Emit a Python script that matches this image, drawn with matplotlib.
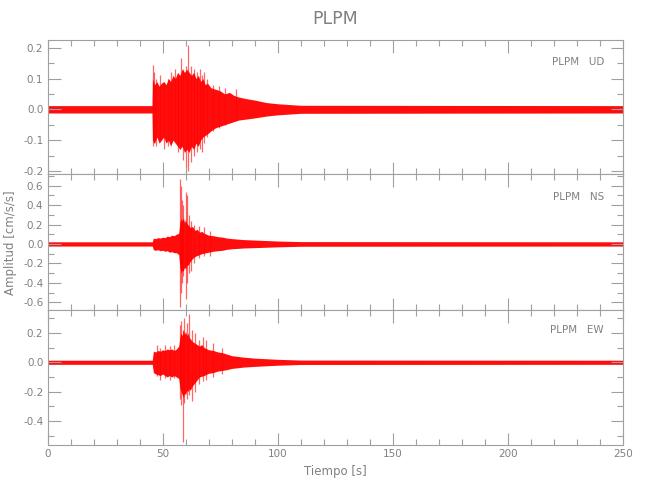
import matplotlib
matplotlib.use("Agg")
import matplotlib.pyplot as plt
from matplotlib.ticker import MultipleLocator, FormatStrFormatter

# station / components
station = "PLPM"
components = ["UD", "NS", "EW"]

# envelope of the dense trace (core band)
ud_t = [0, 45.4, 45.6, 46.5, 47.5, 48.5, 49.5, 50.5, 51.5, 52.5, 53.5, 54.5, 55.5, 56.5, 57.5, 58.5,
        59.5, 60.5, 61.5, 62.5, 63.5, 64.5, 65.5, 66.5, 67.5, 68.5, 69.5, 71, 73, 75, 77, 79, 81, 83,
        86, 90, 95, 100, 110, 250]
ud_hi = [0.012, 0.012, 0.10, 0.08, 0.09, 0.075, 0.085, 0.09, 0.08, 0.10, 0.09, 0.11, 0.10, 0.12, 0.11, 0.13,
         0.12, 0.13, 0.12, 0.11, 0.12, 0.10, 0.11, 0.09, 0.10, 0.08, 0.085, 0.07, 0.065, 0.06, 0.05, 0.055, 0.045, 0.04,
         0.035, 0.03, 0.022, 0.018, 0.013, 0.012]
ud_lo = [-0.012, -0.012, -0.10, -0.11, -0.09, -0.11, -0.10, -0.09, -0.11, -0.10, -0.12, -0.10, -0.11, -0.12, -0.13, -0.12,
         -0.14, -0.13, -0.14, -0.12, -0.13, -0.11, -0.12, -0.10, -0.09, -0.085, -0.08, -0.07, -0.06, -0.055, -0.05, -0.045, -0.04, -0.035,
         -0.032, -0.028, -0.022, -0.018, -0.013, -0.012]

ns_t = [0, 45.5, 46.0, 47, 48, 49, 50, 51, 52, 53, 54, 55, 56, 57, 57.5, 58, 58.5, 59, 59.5, 60, 60.5,
        61, 62, 63, 64, 65, 66, 67, 68, 70, 72, 74, 76, 78, 80, 85, 90, 100, 110, 250]
ns_hi = [0.022, 0.022, 0.06, 0.055, 0.065, 0.06, 0.07, 0.065, 0.08, 0.075, 0.09, 0.085, 0.10, 0.11, 0.22, 0.26, 0.24, 0.27, 0.22, 0.25, 0.21,
         0.2, 0.17, 0.18, 0.14, 0.15, 0.12, 0.13, 0.11, 0.09, 0.085, 0.075, 0.07, 0.06, 0.055, 0.045, 0.04, 0.03, 0.024, 0.022]
ns_lo = [-0.022, -0.022, -0.06, -0.065, -0.06, -0.07, -0.065, -0.075, -0.07, -0.085, -0.08, -0.09, -0.09, -0.11, -0.24, -0.3, -0.27, -0.28, -0.24, -0.26, -0.22,
         -0.22, -0.18, -0.15, -0.13, -0.12, -0.11, -0.1, -0.095, -0.085, -0.075, -0.07, -0.065, -0.055, -0.05, -0.042, -0.038, -0.03, -0.024, -0.022]

ew_t = [0, 45.5, 46.0, 47, 48, 49, 50, 51, 52, 53, 54, 55, 56, 57, 57.5, 58, 58.5, 59, 59.5, 60, 60.5, 61, 61.5, 62,
        63, 64, 65, 66, 67, 68, 70, 72, 74, 76, 78, 80, 85, 90, 100, 110, 250]
ew_hi = [0.014, 0.014, 0.075, 0.07, 0.08, 0.075, 0.085, 0.08, 0.09, 0.085, 0.09, 0.08, 0.09, 0.11, 0.17, 0.2, 0.18, 0.22, 0.19, 0.21, 0.18, 0.2, 0.17, 0.16,
         0.14, 0.13, 0.12, 0.11, 0.12, 0.1, 0.085, 0.08, 0.07, 0.065, 0.055, 0.045, 0.035, 0.028, 0.02, 0.015, 0.014]
ew_lo = [-0.014, -0.014, -0.07, -0.08, -0.085, -0.09, -0.08, -0.09, -0.1, -0.09, -0.1, -0.09, -0.1, -0.11, -0.17, -0.2, -0.22, -0.24, -0.21, -0.22, -0.19, -0.2, -0.18, -0.19,
         -0.16, -0.14, -0.12, -0.1, -0.095, -0.09, -0.075, -0.07, -0.06, -0.055, -0.05, -0.042, -0.033, -0.028, -0.02, -0.015, -0.014]

# individual peaks sticking out of the band
ud_sp_t = [45.7, 46.3, 47.2, 48.8, 50.6, 52.2, 53.5, 55.5, 56.8, 57.8, 59.0, 60.2, 61.2, 62.2, 63.6, 65.0,
           66.2, 67.0, 68.2, 69.2, 72.0, 74.5, 77.0, 82.0]
ud_sp_hi = [0.145, 0.12, 0.10, 0.11, 0.09, 0.10, 0.12, 0.13, 0.11, 0.165, 0.13, 0.14, 0.21, 0.14, 0.13, 0.12,
            0.13, 0.11, 0.12, 0.10, 0.08, 0.075, 0.07, 0.065]
ud_sp_lo = [-0.12, -0.11, -0.12, -0.10, -0.13, -0.12, -0.11, -0.10, -0.14, -0.12, -0.165, -0.19, -0.20, -0.17, -0.15, -0.14,
            -0.13, -0.14, -0.11, -0.09, -0.07, -0.06, -0.05, -0.035]

ns_sp_t = [57.5, 57.9, 58.3, 59.0, 60.2, 60.6, 61.3, 62.2, 63.5, 66.0, 68.0, 70.5]
ns_sp_hi = [0.67, 0.60, 0.45, 0.40, 0.53, 0.50, 0.30, 0.24, 0.20, 0.18, 0.17, 0.13]
ns_sp_lo = [-0.65, -0.50, -0.40, -0.33, -0.57, -0.40, -0.30, -0.28, -0.20, -0.14, -0.12, -0.12]

ew_sp_t = [47.5, 49.0, 51.0, 53.0, 55.0, 57.5, 58.0, 58.7, 59.5, 60.5, 61.5, 62.6, 64.0, 66.0, 67.5, 69.0, 72.0, 76.0]
ew_sp_hi = [0.12, 0.10, 0.12, 0.11, 0.12, 0.25, 0.28, 0.22, 0.30, 0.27, 0.33, 0.22, 0.20, 0.15, 0.17, 0.15, 0.13, 0.10]
ew_sp_lo = [-0.09, -0.12, -0.11, -0.12, -0.11, -0.25, -0.29, -0.54, -0.28, -0.25, -0.22, -0.26, -0.20, -0.15, -0.13, -0.12, -0.10, -0.08]

ylims = [(-0.21, 0.225), (-0.68, 0.72), (-0.562, 0.355)]
ymajor = [0.1, 0.2, 0.2]
yminor = [0.05, 0.1, 0.1]
label_y = [0.838, 0.83, 0.85]

traces = [
    (ud_t, ud_hi, ud_lo, ud_sp_t, ud_sp_hi, ud_sp_lo),
    (ns_t, ns_hi, ns_lo, ns_sp_t, ns_sp_hi, ns_sp_lo),
    (ew_t, ew_hi, ew_lo, ew_sp_t, ew_sp_hi, ew_sp_lo),
]

txt = "#808080"
axc = "#a0a0a0"

fig = plt.figure(figsize=(6.5, 5), dpi=100)
left, width = 47.5 / 650, (623 - 47.5) / 650
boxes = [(40, 174), (174, 310), (310, 445)]

for i, (tr, comp) in enumerate(zip(traces, components)):
    top, bot = boxes[i]
    ax = fig.add_axes([left, 1 - bot / 500, width, (bot - top) / 500])
    t, hi, lo, st, shi, slo = tr
    ax.fill_between(t, lo, hi, color="red", lw=0, alpha=0.95)
    ax.vlines(st, slo, shi, color="red", lw=0.9, alpha=0.6)
    ax.set_xlim(0, 250)
    ax.set_ylim(*ylims[i])
    ax.xaxis.set_major_locator(MultipleLocator(50))
    ax.xaxis.set_minor_locator(MultipleLocator(10))
    ax.yaxis.set_major_locator(MultipleLocator(ymajor[i]))
    ax.yaxis.set_minor_locator(MultipleLocator(yminor[i]))
    ax.yaxis.set_major_formatter(FormatStrFormatter("%.1f"))
    ax.tick_params(which="both", direction="in", top=True, right=True,
                   color=axc, labelcolor=txt, labelsize=7.5, width=0.8)
    ax.tick_params(which="major", length=9, pad=3)
    ax.tick_params(which="minor", length=4.5)
    for s in ax.spines.values():
        s.set_color(axc)
        s.set_linewidth(0.8)
    if i < 2:
        ax.tick_params(labelbottom=False)
    ax.text(0.967, label_y[i], station + "   " + comp, transform=ax.transAxes,
            ha="right", va="center", color=txt, fontsize=7.5)

fig.text(0.516, 0.963, station, ha="center", va="center", color=txt, fontsize=12.5)
fig.text(0.516, 0.058, "Tiempo [s]", ha="center", va="center", color=txt, fontsize=8.5)
fig.text(0.016, 0.514, "Amplitud [cm/s/s]", ha="center", va="center", rotation=90,
         color=txt, fontsize=8.5)

fig.savefig("out.png", dpi=100)
